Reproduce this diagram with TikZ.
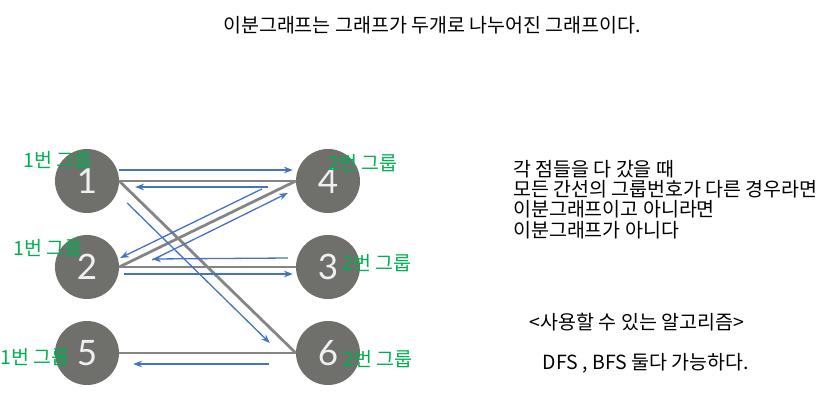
\documentclass[tikz,border=0pt]{standalone}
\usepackage{fontspec}
\setmainfont{Noto Sans CJK KR}
\newfontfamily\numfont{Lato}
\usepackage{tikz}
\usetikzlibrary{arrows.meta}
\definecolor{nodegray}{HTML}{6F6F6B}
\definecolor{edgegray}{HTML}{858585}
\definecolor{visitblue}{HTML}{4472C4}
\definecolor{grpgreen}{HTML}{00B050}

\begin{document}
\begin{tikzpicture}[x=1pt,y=-1pt,>=Stealth,
  vtx/.style={circle,fill=nodegray,minimum size=64pt,inner sep=0pt,
    text=white!88!gray,font=\numfont\fontsize{35}{35}\selectfont},
  grp/.style={text=grpgreen,inner sep=0pt,font=\fontsize{19.5}{20}\selectfont},
  txt/.style={inner sep=0pt,font=\fontsize{19.5}{20.3}\selectfont},
  edge/.style={edgegray,line width=2.8pt},
  visit/.style={->,visitblue,line width=1.3pt}]
  \useasboundingbox (0,0) rectangle (835,400);
  \node[txt] (title) at (432,25) {이분그래프는 그래프가 두개로 나누어진 그래프이다.};
  % vertices
  \node[vtx] (n1) at (87,181) {1};
  \node[vtx] (n2) at (87,267) {2};
  \node[vtx] (n5) at (87,353) {5};
  \node[vtx] (n4) at (328,181) {4};
  \node[vtx] (n3) at (328,267) {3};
  \node[vtx] (n6) at (328,353) {6};
  % edges
  \draw[edge] (n1.east) -- (n4.west);
  \draw[edge] (n1.east) -- (n6.west);
  \draw[edge] (n2.east) -- (n4.west);
  \draw[edge] (n2.east) -- (n3.west);
  \draw[edge] (n5.east) -- (n6.west);
  % visiting order
  \draw[visit] ([yshift=11pt]n1.east) -- ([xshift=-3pt,yshift=11pt]n4.west);
  \draw[visit] ([xshift=-28pt,yshift=-6pt]n4.west) -- ([xshift=16pt,yshift=-6pt]n1.east);
  \draw[visit] ([xshift=-34pt,yshift=-8pt]n4.west) -- ([xshift=1pt,yshift=9pt]n2.east);
  \draw[visit] ([xshift=33pt,yshift=7pt]n2.east) -- ([xshift=-8pt,yshift=-12pt]n4.west);
  \draw[visit] ([xshift=-8pt,yshift=9pt]n3.west) -- ([xshift=33pt,yshift=8pt]n2.east);
  \draw[visit] ([xshift=5pt,yshift=-7pt]n2.east) -- ([xshift=-3pt,yshift=-7pt]n3.west);
  \draw[visit] ([xshift=8pt,yshift=-22pt]n1.east) -- ([xshift=-26pt,yshift=10pt]n6.west);
  \draw[visit] ([xshift=-27pt,yshift=-11pt]n6.west) -- ([xshift=14pt,yshift=-11pt]n5.east);
  % groups
  \node[grp] (g1) at (58,160) {1번 그룹};
  \node[grp] (g2) at (48,248) {1번 그룹};
  \node[grp] (g5) at (35,357) {1번 그룹};
  \node[grp] (g4) at (363,163) {2번 그룹};
  \node[grp] (g3) at (377,263) {2번 그룹};
  \node[grp] (g6) at (378,359) {2번 그룹};
  % explanation
  \node[txt,align=left,anchor=north west] (rule) at (513,160)
    {각 점들을 다 갔을 때\\모든 간선의 그룹번호가 다른 경우라면\\이분그래프이고 아니라면\\이분그래프가 아니다};
  \node[txt] (algo) at (637,322) {<사용할 수 있는 알고리즘>};
  \node[txt] (both) at (646,363) {DFS , BFS 둘다 가능하다.};
\end{tikzpicture}
\end{document}
